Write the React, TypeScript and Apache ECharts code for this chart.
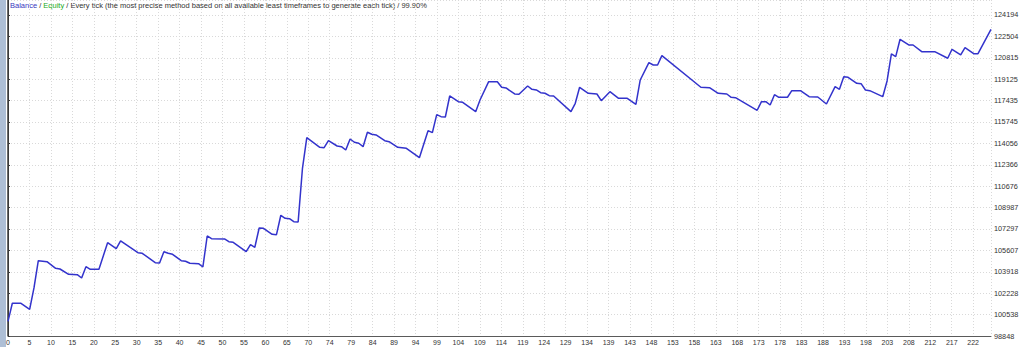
import React, { useEffect, useRef } from "react";
import * as echarts from "echarts";

// Trade numbers (x) and balance after that trade (y) at the line's vertices
const tradeNo: number[] = [
  0, 1, 3, 5, 6, 7, 9, 11, 12, 14, 16, 17, 18, 19, 21, 23, 25, 26, 30, 31,
  34, 35, 36, 37, 38, 40, 41, 42, 44, 45, 46, 47, 50, 51, 52, 55, 56, 57, 58, 59,
  61, 62, 63, 64, 65, 66, 67, 68, 69, 72, 73, 74, 76, 77, 78, 79, 80, 81, 82, 83,
  84, 85, 87, 88, 90, 92, 95, 97, 98, 99, 100, 101, 102, 104, 105, 108, 109, 111, 113, 114,
  115, 117, 118, 120, 121, 122, 123, 124, 125, 126, 130, 131, 132, 134, 136, 137, 139, 141, 143, 145,
  146, 148, 149, 150, 151, 160, 162, 164, 166, 167, 168, 173, 174, 175, 176, 177, 178, 180, 181, 183,
  185, 187, 189, 191, 192, 193, 194, 196, 197, 198, 199, 202, 203, 204, 205, 206, 208, 209, 211, 214,
  217, 218, 220, 221, 223, 224, 227,
];
const balance: number[] = [
  100000, 101431, 101431, 100957, 102640, 104795, 104716, 104195, 104139, 103721, 103689, 103429, 104321, 104116, 104116, 106216, 105742, 106350, 105426, 105379,
  104637, 104613, 105505, 105379, 105300, 104795, 104747, 104589, 104558, 104297, 106745, 106532, 106508, 106295, 106248, 105505, 106058, 105853, 107377, 107353,
  106879, 106848, 108380, 108143, 108111, 107874, 107850, 112091, 114507, 113749, 113717, 114270, 113851, 113796, 113536, 114404, 114144, 114065, 113796, 114933,
  114775, 114720, 114270, 114191, 113749, 113670, 112928, 115060, 114902, 116323, 116165, 116141, 117799, 117349, 117302, 116560, 117484, 118929, 118929, 118486,
  118431, 117957, 117933, 118589, 118328, 118273, 118060, 118013, 117823, 117799, 116560, 117223, 118486, 118013, 117957, 117428, 118139, 117618, 117618, 117144,
  119063, 120429, 120247, 120247, 120982, 118486, 118454, 118013, 117957, 117697, 117665, 116670, 117349, 117349, 117089, 117902, 117697, 117697, 118218, 118218,
  117744, 117721, 117168, 118534, 118328, 119323, 119276, 118802, 118770, 118273, 118218, 117744, 118984, 121116, 120903, 122276, 121826, 121826, 121297, 121297,
  120776, 121487, 121037, 121613, 121139, 121139, 123066,
];

const xTickLabels: string[] = [
  "0", "5", "10", "15", "20", "25", "30", "35", "40", "45", "50", "55", "60", "65", "70",
  "74", "79", "84", "89", "94", "99", "104", "109", "114", "119", "124", "129", "134", "139", "143",
  "148", "153", "158", "163", "168", "173", "178", "183", "188", "193", "198", "203", "208", "212", "217", "222",
];
const yTickLabels: string[] = [
  "98848", "100538", "102228", "103918", "105607", "107297", "108987", "110676",
  "112366", "114056", "115745", "117435", "119125", "120815", "122504", "124194",
];

const legendText =
  "{b|Balance} / {e|Equity} / Every tick (the most precise method based on all available least timeframes to generate each tick) / 99.90%";

const X_MAX = 227;
const X_INTERVAL = 4.953;
const Y_MIN = 98848;
const Y_INTERVAL = 1689.73;
const Y_MAX = 125378;

const FONT = "Liberation Sans";

export default function App() {
  const ref = useRef<HTMLDivElement>(null);
  useEffect(() => {
    if (!ref.current) return;
    const chart = echarts.init(ref.current, null, { renderer: "svg" });
    const data = tradeNo.map((t, i) => [t, balance[i]]);
    chart.setOption({
      animation: false,
      backgroundColor: "#ffffff",
      grid: { left: 8, right: 33, top: 0, bottom: 11, containLabel: false },
      xAxis: {
        type: "value",
        min: 0,
        max: X_MAX,
        interval: X_INTERVAL,
        axisLine: { show: true, lineStyle: { color: "#5a5a5a", width: 1 } },
        axisTick: { show: false },
        splitLine: { show: true, lineStyle: { color: "#d9d9d9", type: [1, 2], width: 1 } },
        axisLabel: {
          margin: 3,
          fontSize: 7,
          fontFamily: FONT,
          color: "#333",
          showMaxLabel: false,
          formatter: (v: number) => {
            const k = Math.round(v / X_INTERVAL);
            return xTickLabels[k] ?? "";
          },
        },
      },
      yAxis: {
        type: "value",
        position: "right",
        min: Y_MIN,
        max: Y_MAX,
        interval: Y_INTERVAL,
        axisLine: { show: true, lineStyle: { color: "#3a3a3a", width: 1 } },
        axisTick: { show: true, length: 2, lineStyle: { color: "#3a3a3a" } },
        splitLine: { show: true, lineStyle: { color: "#d9d9d9", type: [1, 2], width: 1 } },
        axisLabel: {
          margin: 3,
          fontSize: 7.3,
          fontFamily: FONT,
          color: "#333",
          showMaxLabel: false,
          formatter: (v: number) => {
            const k = Math.round((v - Y_MIN) / Y_INTERVAL);
            return yTickLabels[k] ?? "";
          },
        },
      },
      graphic: [
        { type: "rect", shape: { x: 0, y: 0, width: 6, height: 347 }, style: { fill: "#aebfd6" }, silent: true },
        { type: "line", shape: { x1: 7.5, y1: 0, x2: 7.5, y2: 336 }, style: { stroke: "#6a6a6a", lineWidth: 1 }, silent: true },
        {
          type: "text",
          x: 10,
          y: 5.5,
          style: {
            text: legendText,
            fontSize: 7.5,
            fontFamily: FONT,
            fill: "#333333",
            verticalAlign: "middle",
            rich: {
              b: { fill: "#3838c0", color: "#3838c0", fontSize: 7.5, fontFamily: FONT },
              e: { fill: "#22aa22", color: "#22aa22", fontSize: 7.5, fontFamily: FONT },
            },
          },
          silent: true,
        },
      ],
      series: [
        {
          type: "line",
          data,
          showSymbol: false,
          symbol: "none",
          lineStyle: { color: "#3333cc", width: 1.5 },
        },
      ],
    });
    return () => chart.dispose();
  }, []);
  return (
    <div
      ref={ref}
      style={{ position: "fixed", left: 0, top: 0, width: 1024, height: 347 }}
    />
  );
}
